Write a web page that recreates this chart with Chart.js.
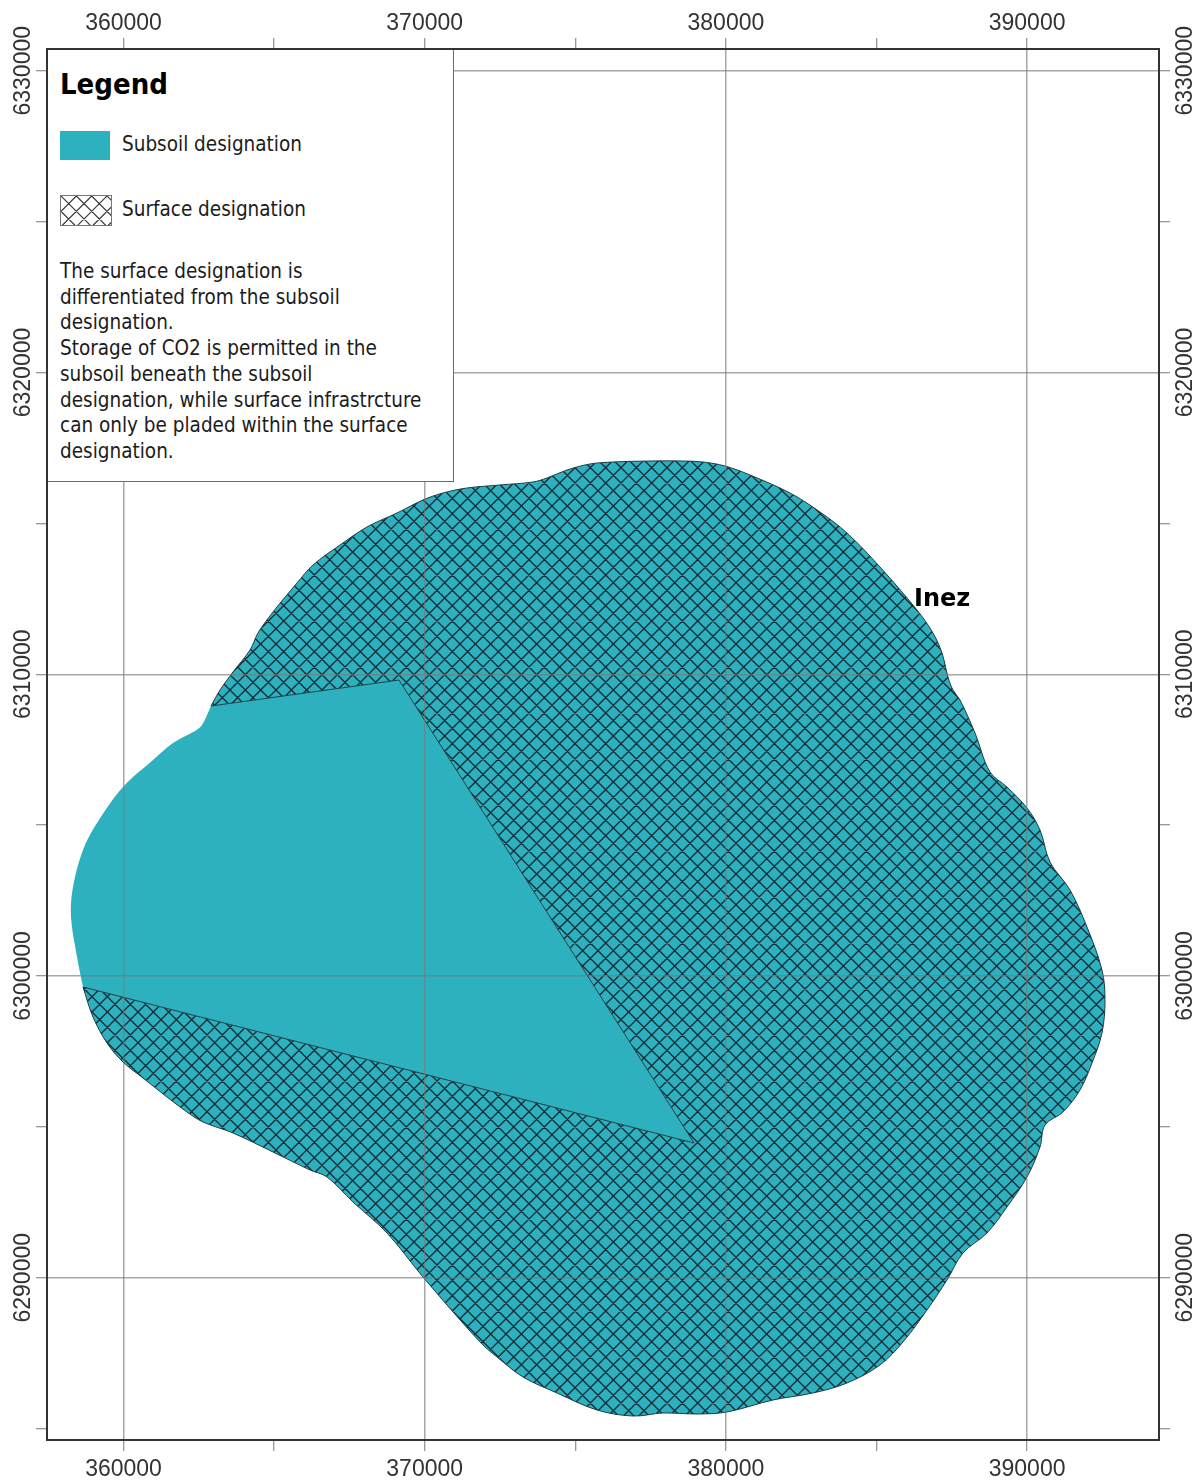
<!DOCTYPE HTML>
<html>
<head>
	<title>Inez designation map</title>
	<script src="https://cdn.jsdelivr.net/npm/chart.js@4"></script>
	<style>
		body { margin: 0; background: #fff; }
		#wrap { position: relative; width: 1198px; height: 1480px; }
		#map { position: absolute; left: 0; top: 0; }
		#legend { position: absolute; left: 48px; top: 50px; width: 405px; height: 431px; background: #fff;
			border-right: 1px solid #6a6a6a; border-bottom: 1px solid #6a6a6a; }
		#legend div { position: absolute; white-space: nowrap; color: #1c1c1c;
			font: 20.5px "DejaVu Sans Condensed", "Noto Sans", sans-serif; line-height: 26px; }
		#legend .title { left: 12px; top: 15px; font-size: 29px; font-weight: bold; line-height: 38px; color: #000; }
		#swatchSub { position: absolute; left: 12px; top: 81px; width: 50px; height: 29px; background: #2eb1bf; }
		#swatchSurf { position: absolute; left: 12px; top: 145px; width: 50px; height: 29px; border: 1px solid #777; }
	</style>
</head>
<body>
<div id="wrap">
	<canvas id="map" width="1198" height="1480"></canvas>
	<div id="legend">
		<div class="title" id="legTitle"></div>
		<span id="swatchSub"></span>
		<div id="legSub" style="left:74px; top:81px"></div>
		<canvas id="swatchSurf" width="50" height="29"></canvas>
		<div id="legSurf" style="left:74px; top:146px"></div>
	</div>
</div>
<script>
// easting / northing of the designation edge
var surfaceEdgeX = [362905, 363204, 363635, 364200, 364465, 364963, 365760, 366291, 367188, 368084, 369080, 369943,
	370607, 371404, 372500, 373595, 374060, 374724, 375488, 376251, 377480, 378575, 379239, 379970, 380800, 382128,
	383124, 384020, 385116, 386344, 386875, 387174, 387373, 387539, 387772, 388270, 388768, 389332, 389996, 390428,
	390760, 391424, 391988, 392486, 392586, 392486, 392154, 391756, 391191, 390594, 390428, 389996, 389332, 388668,
	387871, 387340, 386676, 385879, 385116, 384020, 382891, 381563, 380036, 379040, 377911, 376915, 375720, 374392,
	373263, 372400, 371836, 369943, 368748, 367619, 366756, 366192, 364963, 363635, 362639, 362108, 361444, 360647,
	359983, 359452, 358987, 358655];
var surfaceEdgeY = [6308948, 6309478, 6310075, 6310804, 6311367, 6312063, 6313024, 6313621, 6314283, 6314880, 6315344, 6315775,
	6316007, 6316172, 6316272, 6316371, 6316504, 6316769, 6316968, 6317034, 6317067, 6317067, 6317034, 6316901, 6316603, 6316007,
	6315377, 6314681, 6313554, 6312129, 6311367, 6310704, 6309909, 6309478, 6309147, 6308053, 6306761, 6306263, 6305568, 6304838,
	6303778, 6302850, 6301624, 6300199, 6299205, 6298111, 6297117, 6296222, 6295493, 6295062, 6294333, 6293339, 6292345, 6291483,
	6290820, 6289925, 6288931, 6287871, 6287109, 6286512, 6286181, 6285949, 6285551, 6285485, 6285518, 6285418, 6285617, 6286181,
	6286711, 6287374, 6287871, 6290025, 6291483, 6292510, 6293339, 6293571, 6294167, 6294797, 6295162, 6295493, 6295990, 6296620,
	6297150, 6297780, 6298641, 6299635];
// the wedge corners between the two designations
var wedgeX = [378941, 369147];
var wedgeY = [6294466, 6309809];
// west lobe, only subsoil
var lobeX = [358456, 358257, 358323, 358655, 359120, 359983, 360979, 361643, 362374, 362606];
var lobeY = [6300630, 6301955, 6302949, 6304176, 6305070, 6306263, 6307158, 6307722, 6308119, 6308318];

var xTicks = [360000, 365000, 370000, 375000, 380000, 385000, 390000];
var yTicks = [6285000, 6290000, 6295000, 6300000, 6305000, 6310000, 6315000, 6320000, 6325000, 6330000];
var xLabels = ["360000", "370000", "380000", "390000"];
var yLabels = ["6290000", "6300000", "6310000", "6320000", "6330000"];

var legendTitle = "Legend";
var legendSub = "Subsoil designation";
var legendSurf = "Surface designation";
var legendNote = ["The surface designation is", "differentiated from the subsoil", "designation.",
	"Storage of CO2 is permitted in the", "subsoil beneath the subsoil", "designation, while surface infrastrcture",
	"can only be pladed within the surface", "designation."];
var placeName = "Inez";
var placeX = 386245;
var placeY = 6312480;

var TEAL = "#2eb1bf";

// a repeated corner stays sharp when the line has tension
function zip(xs, ys){
	return xs.map(function(x, i){ return {x: x, y: ys[i]}; });
}
function sharp(p){
	return [p, p];
}

// crosshatch tile, 46px holds three diagonals each way
function hatchTile(base, line, width){
	var c = document.createElement("canvas");
	c.width = c.height = 46;
	var g = c.getContext("2d");
	if(base){ g.fillStyle = base; g.fillRect(0, 0, 46, 46); }
	g.strokeStyle = line;
	g.lineWidth = width;
	g.beginPath();
	for(var i = -46; i <= 92; i += 46 / 3){
		g.moveTo(i, 0); g.lineTo(i + 46, 46);
		g.moveTo(i, 0); g.lineTo(i - 46, 46);
	}
	g.stroke();
	return c;
}

var ctx = document.getElementById("map").getContext("2d");
var hatch = ctx.createPattern(hatchTile(TEAL, "#15303a", 1.4), "repeat");

// legend panel
document.getElementById("legTitle").textContent = legendTitle;
document.getElementById("legSub").textContent = legendSub;
document.getElementById("legSurf").textContent = legendSurf;
legendNote.forEach(function(t, i){
	var d = document.createElement("div");
	d.textContent = t;
	d.style.left = "12px";
	d.style.top = (208 + i * 25.7) + "px";
	document.getElementById("legend").appendChild(d);
});
var sw = document.getElementById("swatchSurf").getContext("2d");
sw.fillStyle = sw.createPattern(hatchTile(null, "#3a3a3a", 1.2), "repeat");
sw.fillRect(0, 0, 50, 29);

var mapExtras = {
	id: "mapExtras",
	afterDraw: function(chart){
		var c = chart.ctx, a = chart.chartArea;
		c.save();
		c.strokeStyle = "#333";
		c.lineWidth = 2;
		c.strokeRect(a.left, a.top, a.right - a.left, a.bottom - a.top);
		c.font = "bold 24px 'DejaVu Sans'";
		c.fillStyle = "#000";
		c.textBaseline = "middle";
		c.fillText(placeName, chart.scales.x.getPixelForValue(placeX), chart.scales.y.getPixelForValue(placeY));
		c.restore();
	}
};

function tickFont(){ return {family: "'Liberation Sans'", size: 23}; }

function gridFor(labels, show){
	return {
		z: 1,
		drawOnChartArea: show,
		tickLength: 11,
		tickWidth: 1,
		tickColor: "#777",
		lineWidth: 1.5,
		color: function(c){ return labels.indexOf(String(c.tick.value)) >= 0 ? "rgba(120,120,120,0.65)" : "transparent"; }
	};
}

function xAxis(position, size, pad, show){
	return {
		type: "linear", position: position, min: 357460, max: 394379,
		afterBuildTicks: function(s){ s.ticks = xTicks.map(function(v){ return {value: v}; }); },
		afterFit: function(s){ s.height = size; },
		border: {display: false},
		grid: gridFor(xLabels, show),
		ticks: {
			autoSkip: false, maxRotation: 0, minRotation: 0, padding: pad, color: "#333", font: tickFont(),
			callback: function(v){ return xLabels.indexOf(String(v)) >= 0 ? String(v) : ""; }
		}
	};
}

function yAxis(position, size, pad, show){
	return {
		type: "linear", position: position, min: 6284623, max: 6330721,
		afterBuildTicks: function(s){ s.ticks = yTicks.map(function(v){ return {value: v}; }); },
		afterFit: function(s){ s.width = size; },
		border: {display: false},
		grid: gridFor(yLabels, show),
		ticks: {
			autoSkip: false, minRotation: 90, maxRotation: 90, crossAlign: "center", padding: pad, color: "#333", font: tickFont(),
			callback: function(v){ return yLabels.indexOf(String(v)) >= 0 ? String(v) : ""; }
		}
	};
}

var edge = zip(surfaceEdgeX, surfaceEdgeY);
var wedge = zip(wedgeX, wedgeY);
var lobe = zip(lobeX, lobeY);
var edgeStart = edge[0], edgeEnd = edge[edge.length - 1];

new Chart(ctx, {
	type: "scatter",
	data: {
		datasets: [{
			// hatched surface designation
			data: edge.concat(sharp(edgeEnd), sharp(wedge[0]), sharp(wedge[1]), sharp(edgeStart)),
			showLine: true, fill: "shape", backgroundColor: hatch, tension: 0.35,
			borderColor: "#1b3d45", borderWidth: 1, pointRadius: 0
		}, {
			// plain subsoil part
			data: sharp(edgeStart).concat(sharp(wedge[1]), sharp(wedge[0]), sharp(edgeEnd), lobe, sharp(edgeStart)),
			showLine: true, fill: "shape", backgroundColor: TEAL, tension: 0.35,
			borderColor: "transparent", borderWidth: 0, pointRadius: 0
		}]
	},
	options: {
		responsive: false,
		animation: false,
		layout: {padding: 0},
		plugins: {legend: {display: false}, tooltip: {enabled: false}},
		scales: {
			x: xAxis("bottom", 40, 5, true),
			x2: xAxis("top", 49, 1, false),
			y: yAxis("left", 47, -32, true),
			y2: yAxis("right", 39, -29, false)
		}
	},
	plugins: [mapExtras]
});
</script>
</body>
</html>
